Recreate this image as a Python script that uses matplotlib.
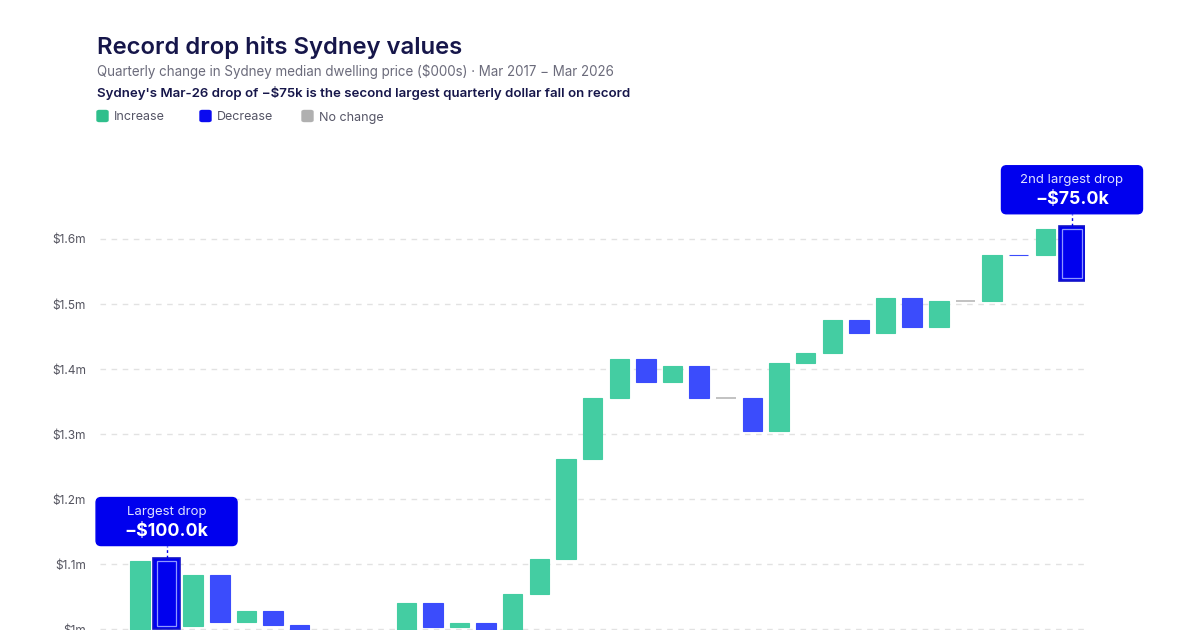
import matplotlib
matplotlib.use("Agg")
import matplotlib.pyplot as plt
from matplotlib.patches import FancyBboxPatch
import numpy as np

# ---------------- data ----------------
quarters = ["Mar-17", "Jun-17", "Sep-17", "Dec-17", "Mar-18", "Jun-18", "Sep-18", "Dec-18",
            "Mar-19", "Jun-19", "Sep-19", "Dec-19", "Mar-20", "Jun-20", "Sep-20", "Dec-20",
            "Mar-21", "Jun-21", "Sep-21", "Dec-21", "Mar-22", "Jun-22", "Sep-22", "Dec-22",
            "Mar-23", "Jun-23", "Sep-23", "Dec-23", "Mar-24", "Jun-24", "Sep-24", "Dec-24",
            "Mar-25", "Jun-25", "Sep-25", "Dec-25", "Mar-26"]
start_value = 960  # $000s, level before first quarter
changes = [30, 115, -100, 79, -73, 17, -22, -21,
           -20, 10, 15, 50, -37, 7, -15, 59,
           54, 154, 93, 60, -35, 25, -50, 0,
           -50, 105, 15, 50, -19, 54, -45, 40,
           0, 71, -1, 40, -75]
y_ticks = [1000, 1100, 1200, 1300, 1400, 1500, 1600]
y_tick_labels = ["$1m", "$1.1m", "$1.2m", "$1.3m", "$1.4m", "$1.5m", "$1.6m"]

# ---------------- style ----------------
W, H = 1200, 630
FONT = ["Inter", "DejaVu Sans"]
plt.rcParams["font.family"] = FONT
GREEN = "#44cda2"
BLUE = "#3b4cfc"
HL_BLUE = "#0000ee"
GRAY = "#bdbdbd"
NAVY = "#16164a"

fig = plt.figure(figsize=(W / 100, H / 100), dpi=100)
fig.patch.set_facecolor("white")

PX_PER_K = 0.6506
ymin, ymax = 880, 1700
top_px = 239 - (ymax - 1600) * PX_PER_K
h_px = (ymax - ymin) * PX_PER_K
left_px, width_px = 100, 985.3
ax = fig.add_axes([left_px / W, 1 - (top_px + h_px) / H, width_px / W, h_px / H])
ax.set_facecolor("white")
n = len(changes)
ax.set_xlim(-0.5, n - 0.5)
ax.set_ylim(ymin, ymax)
for s in ax.spines.values():
    s.set_visible(False)
ax.set_yticks(y_ticks)
ax.set_yticklabels(y_tick_labels, fontsize=8.6, color="#555560")
ax.tick_params(axis="y", length=0, pad=10)
ax.set_xticks(range(n))
ax.tick_params(axis="x", length=0, labelbottom=False)
ax.grid(axis="y", color="#e2e2e2", linestyle=(0, (4, 4)), linewidth=1)
ax.set_axisbelow(True)

levels_before = start_value + np.concatenate([[0], np.cumsum(changes)[:-1]])
bar_w = 0.73

for i, (b, c) in enumerate(zip(levels_before, changes)):
    if c > 0:
        ax.bar(i, c, bottom=b, width=bar_w, color=GREEN, edgecolor=GREEN, linewidth=0.8, zorder=3)
    elif c < 0:
        ax.bar(i, c, bottom=b, width=bar_w, color=BLUE, edgecolor=BLUE, linewidth=0.8, zorder=3)
    else:
        ax.bar(i, 0, bottom=b, width=bar_w, color=GRAY, edgecolor=GRAY, linewidth=1.3, zorder=3)

# highlight two largest drops
order = np.argsort(changes)
labels = ["Largest drop", "2nd largest drop"]
pad_x = 3.4 / (width_px / n)
pad_y = 3.0 / PX_PER_K
fig.canvas.draw()
for rank, idx in enumerate(order[:2]):
    b, c = levels_before[idx], changes[idx]
    ax.bar(idx, c - 2 * pad_y, bottom=b + pad_y, width=bar_w + 2 * pad_x, color=HL_BLUE,
           edgecolor="#1414c8", linewidth=1.2, zorder=4)
    ax.bar(idx, c, bottom=b, width=bar_w, color=HL_BLUE, edgecolor="#8f98ff",
           linewidth=0.9, zorder=5)
    px, py = ax.transData.transform((idx, b))
    bw, bh = 141, 48
    gap = 15.5
    box_bottom = py + gap
    box = FancyBboxPatch((px - bw / 2, box_bottom), bw, bh,
                         boxstyle="round,pad=0,rounding_size=5",
                         transform=None, facecolor=HL_BLUE, edgecolor=HL_BLUE, zorder=10)
    fig.patches.append(box)
    fig.lines.append(plt.Line2D([px, px], [py + 3, box_bottom], transform=None,
                                color=HL_BLUE, linewidth=1, linestyle=(0, (2, 2)), zorder=9))
    fig.text(px / W, (box_bottom + bh - 14) / H, labels[rank], ha="center", va="center",
             fontsize=9.5, color="#dfe2ff", zorder=11)
    fig.text(px / W, (box_bottom + bh - 34) / H, f"\u2212${abs(c):.1f}k", ha="center",
             va="center", fontsize=12.8, fontweight="bold", color="white", zorder=11)

# ---------------- titles ----------------
fig.text(97 / W, 1 - 54 / H, "Record drop hits Sydney values", fontsize=17.2,
         fontweight="semibold", color=NAVY, ha="left", va="baseline")
fig.text(97 / W, 1 - 76 / H,
         "Quarterly change in Sydney median dwelling price ($000s) \u00b7 Mar 2017 \u2212 Mar 2026",
         fontsize=9.65, color="#6b6b7b", ha="left", va="baseline")
fig.text(97 / W, 1 - 97.5 / H,
         "Sydney's Mar-26 drop of \u2212$75k is the second largest quarterly dollar fall on record",
         fontsize=9.55, fontweight="semibold", color=NAVY, ha="left", va="baseline")

legend_items = [("Increase", "#2fbf8c", 97), ("Decrease", "#0a0af0", 200), ("No change", "#b0b0b0", 302)]
for lab, col, lx in legend_items:
    sq = FancyBboxPatch((lx / W, 1 - 121.5 / H), 11 / W, 11 / H,
                        boxstyle="round,pad=0,rounding_size=0.002",
                        transform=fig.transFigure, facecolor=col, edgecolor=col)
    fig.patches.append(sq)
    fig.text((lx + 17) / W, 1 - 120.5 / H, lab, fontsize=9, color="#555566",
             ha="left", va="baseline")

fig.savefig("out.png", dpi=100, facecolor="white")
